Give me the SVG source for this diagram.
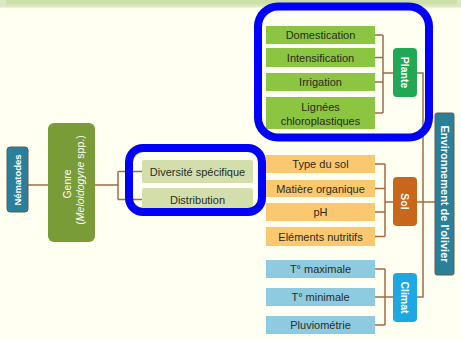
<svg xmlns="http://www.w3.org/2000/svg" width="461" height="339" viewBox="0 0 461 339">
  <style>
    .lbl { font-family: "Liberation Sans", Arial, sans-serif; font-size: 11px; fill: #2b2b1e; text-anchor: middle; dominant-baseline: central; }
    .vlbl { font-family: "Liberation Sans", Arial, sans-serif; font-weight: bold; fill: #ffffff; text-anchor: middle; dominant-baseline: central; }
    .vlbl.thin { font-weight: normal; }
    .wire { fill: none; stroke: #a26b44; stroke-width: 1.5; }
    .hl { fill: none; stroke: #0000ff; stroke-width: 8; }
    .plante { fill: #8cc541; }
    .sol { fill: #fbc86f; }
    .climat { fill: #8fcbe0; }
    .genre-item { fill: #d2dfad; }
  </style>

  <!-- page background and top banner -->
  <rect width="461" height="339" fill="#fffff2"/>
  <rect x="0" y="0" width="461" height="7.5" fill="#dce7c4"/>
  <rect x="6" y="0" width="451" height="4.5" fill="#cde0aa"/>

  <!-- connectors -->
  <g id="connectors" class="wire">
    <path d="M28 185 H48"/>
    <path d="M95 185 H118 M118 171.5 V199.5 M118 171.5 H142 M118 199.5 H142"/>
    <path d="M375 35 H383 M375 57.5 H383 M375 82 H383 M375 113 H383 M383 35 V113 M383 73 H393"/>
    <path d="M375 164 H385 M375 188.5 H385 M375 212 H385 M375 236.5 H385 M385 164 V236.5 M385 202 H393"/>
    <path d="M375 269 H385 M375 297 H385 M375 325 H385 M385 269 V325 M385 297 H393"/>
    <path d="M417 73 H423 V297 H417"/>
    <path d="M417 202 H435"/>
  </g>

  <!-- root -->
  <g id="nematodes">
    <rect x="7" y="147" width="21" height="65" rx="3" fill="#2a7f9d" stroke="#6b5a44" stroke-width="1"/>
    <text class="vlbl" font-size="9.5" transform="translate(17.5,180) rotate(-90)">Nématodes</text>
  </g>

  <g id="genre">
    <rect x="48" y="123" width="47" height="119" rx="6" fill="#799b38"/>
    <text class="vlbl thin" font-size="10.5" transform="translate(66.5,184) rotate(-90)">Genre</text>
    <text class="vlbl thin" font-size="10.5" transform="translate(80,180) rotate(-90)">(<tspan font-style="italic">Meloidogyne</tspan> spp.)</text>
  </g>

  <g id="diversite">
    <rect class="genre-item" x="142" y="160" width="111" height="23" rx="2"/>
    <text class="lbl" x="197.5" y="171.5">Diversité spécifique</text>
  </g>
  <g id="distribution">
    <rect class="genre-item" x="142" y="188" width="111" height="23" rx="2"/>
    <text class="lbl" x="197.5" y="199.5">Distribution</text>
  </g>

  <!-- plant factors -->
  <g id="domestication">
    <rect class="plante" x="266" y="26" width="109" height="18"/>
    <text class="lbl" x="320.5" y="35">Domestication</text>
  </g>
  <g id="intensification">
    <rect class="plante" x="266" y="48" width="109" height="19"/>
    <text class="lbl" x="320.5" y="57.5">Intensification</text>
  </g>
  <g id="irrigation">
    <rect class="plante" x="266" y="73" width="109" height="18"/>
    <text class="lbl" x="320.5" y="82">Irrigation</text>
  </g>
  <g id="lignees">
    <rect class="plante" x="266" y="97" width="109" height="32"/>
    <text class="lbl" x="320.5" y="107">Lignées</text>
    <text class="lbl" x="320.5" y="120.5">chloroplastiques</text>
  </g>
  <g id="plante">
    <rect x="393" y="48" width="24" height="49" rx="4" fill="#21a855"/>
    <text class="vlbl" font-size="10.5" transform="translate(405,72.5) rotate(90)">Plante</text>
  </g>

  <!-- soil factors -->
  <g id="type-sol">
    <rect class="sol" x="266" y="155" width="109" height="18"/>
    <text class="lbl" x="320.5" y="164">Type du sol</text>
  </g>
  <g id="matiere-organique">
    <rect class="sol" x="266" y="180" width="109" height="17"/>
    <text class="lbl" x="320.5" y="188.5">Matière organique</text>
  </g>
  <g id="ph">
    <rect class="sol" x="266" y="203" width="109" height="18"/>
    <text class="lbl" x="320.5" y="212">pH</text>
  </g>
  <g id="elements-nutritifs">
    <rect class="sol" x="266" y="227" width="109" height="19"/>
    <text class="lbl" x="320.5" y="236.5">Eléments nutritifs</text>
  </g>
  <g id="sol">
    <rect x="393" y="177" width="24" height="49" rx="4" fill="#c8661b"/>
    <text class="vlbl" font-size="10.5" transform="translate(405,201.5) rotate(90)">Sol</text>
  </g>

  <!-- climate factors -->
  <g id="t-max">
    <rect class="climat" x="266" y="260" width="109" height="18"/>
    <text class="lbl" x="320.5" y="269">T° maximale</text>
  </g>
  <g id="t-min">
    <rect class="climat" x="266" y="288" width="109" height="18"/>
    <text class="lbl" x="320.5" y="297">T° minimale</text>
  </g>
  <g id="pluviometrie">
    <rect class="climat" x="266" y="316" width="109" height="18"/>
    <text class="lbl" x="320.5" y="325">Pluviométrie</text>
  </g>
  <g id="climat">
    <rect x="393" y="273" width="24" height="49" rx="4" fill="#1fa7e1"/>
    <text class="vlbl" font-size="10.5" transform="translate(405,297.5) rotate(90)">Climat</text>
  </g>

  <!-- environment -->
  <g id="environnement">
    <rect x="435" y="113" width="19" height="162" rx="2" fill="#2c7f99" stroke="#6b5a44" stroke-width="1"/>
    <text class="vlbl" font-size="11" transform="translate(444.5,194) rotate(90)">Environnement de l'olivier</text>
  </g>

  <!-- highlight frames -->
  <g id="highlights" class="hl">
    <rect x="258" y="6.5" width="171" height="131" rx="20"/>
    <rect x="129" y="148" width="133" height="64" rx="14"/>
  </g>
</svg>
